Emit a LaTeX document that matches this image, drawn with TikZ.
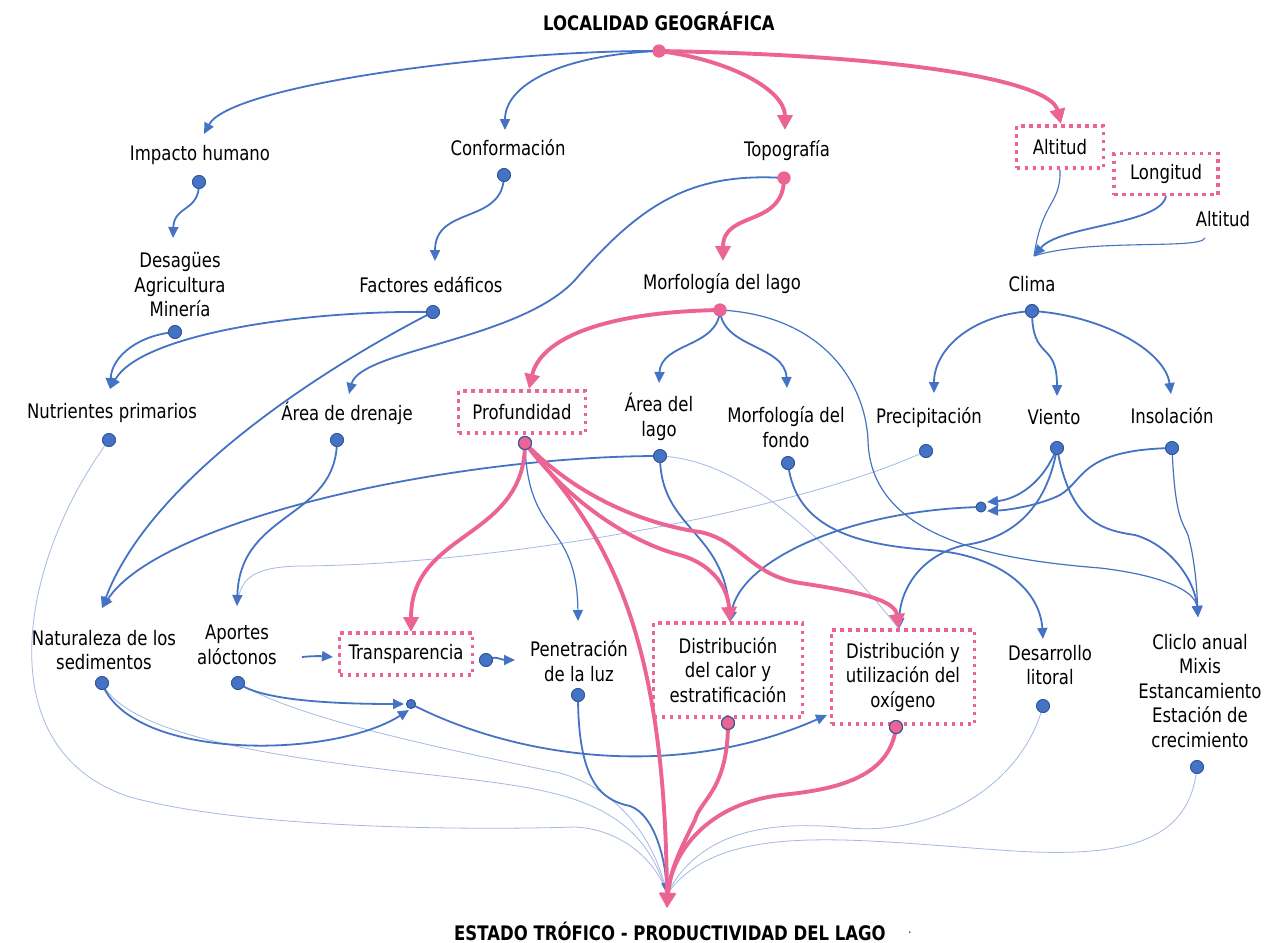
\documentclass[tikz,border=0pt]{standalone}
\usepackage{fontspec}
\setmainfont{DejaVu Sans}[FakeStretch=0.825]
\usetikzlibrary{arrows.meta}
\definecolor{cblue}{HTML}{4472C4}
\definecolor{cdark}{HTML}{2F5597}
\definecolor{cpink}{HTML}{EC6494}
\definecolor{cfaint}{HTML}{A4B9E4}
\begin{document}
\begin{tikzpicture}[x=1pt,y=-1pt,
  lbl/.style={font=\fontsize{20}{24.5}\selectfont, inner sep=0pt, align=center},
  ttl/.style={font=\fontsize{20}{24.5}\selectfont\bfseries, inner sep=0pt},
  pbox/.style={lbl, draw=cpink, line width=3.5pt, dash pattern=on 3.5pt off 4.5pt},
  bdot/.style={circle, fill=cblue, draw=cdark, line width=0.8pt, minimum size=13pt, inner sep=0pt},
  pdot/.style={circle, fill=cpink, minimum size=13pt, inner sep=0pt},
  pbdot/.style={circle, fill=cpink, draw=cdark, line width=1pt, minimum size=13pt, inner sep=0pt},
  jdot/.style={circle, fill=cblue, draw=cdark, line width=0.8pt, minimum size=9pt, inner sep=0pt},
  barrow/.style={draw=cblue, line width=1.8pt, -{Triangle[length=11pt,width=10pt]}},
  tarrow/.style={draw=cblue, line width=1.2pt, -{Triangle[length=11pt,width=10pt]}},
  tline/.style={draw=cblue, line width=1.1pt},
  fline/.style={draw=cfaint, line width=0.8pt},
  parrow/.style={draw=cpink, line width=3.9pt, -{Triangle[length=15pt,width=15pt]}}
]
\useasboundingbox (0,0) rectangle (1270,943);
\fill[white] (0,0) rectangle (1270,943);

% ---------- titles ----------
\node[ttl] (localidad) at (659,21) {LOCALIDAD GEOGRÁFICA};
\node[ttl] (estado) at (670,931) {ESTADO TRÓFICO - PRODUCTIVIDAD DEL LAGO};
\node[lbl, font=\fontsize{12}{14}\selectfont] (punto) at (910,933) {.};

% ---------- labels ----------
\node[lbl] (impacto) at (200,155) {Impacto humano};
\node[lbl] (conform) at (508,148) {Conformación};
\node[lbl] (topo) at (787,151) {Topografía};
\node[pbox, minimum width=87pt, minimum height=42pt] (altitud) at (1060,147) {Altitud};
\node[pbox, minimum width=104pt, minimum height=41pt] (longitud) at (1166,174) {Longitud};
\node[lbl] (altitud2) at (1223,219) {Altitud};
\node[lbl] (desagues) at (180,285) {Desagües\\Agricultura\\Minería};
\node[lbl] (factores) at (431,285) {Factores edáficos};
\node[lbl] (morflago) at (722,284) {Morfología del lago};
\node[lbl] (clima) at (1032,284) {Clima};
\node[lbl] (nutrientes) at (112,413) {Nutrientes primarios};
\node[lbl] (drenaje) at (347,413) {Área de drenaje};
\node[pbox, minimum width=127pt, minimum height=42pt] (profundidad) at (522,412) {Profundidad};
\node[lbl] (arealago) at (659,417) {Área del\\lago};
\node[lbl] (fondo) at (786,427) {Morfología del\\fondo};
\node[lbl] (precip) at (929,418) {Precipitación};
\node[lbl] (viento) at (1054,417) {Viento};
\node[lbl] (insol) at (1172,416) {Insolación};
\node[lbl] (natural) at (104,650) {Naturaleza de los\\sedimentos};
\node[lbl] (aportes) at (237,645) {Aportes\\alóctonos};
\node[pbox, minimum width=133pt, minimum height=42pt] (transp) at (406,654) {Transparencia};
\node[lbl] (penetr) at (579,661) {Penetración\\de la luz};
\node[pbox, minimum width=149pt, minimum height=94pt] (calor) at (728,670) {Distribución\\del calor y\\estratificación};
\node[pbox, minimum width=143pt, minimum height=94pt] (oxig) at (903,677) {Distribución y\\utilización del\\oxígeno};
\node[lbl] (litoral) at (1050,665) {Desarrollo\\litoral};
\node[lbl] (ciclo) at (1200,691) {Cliclo anual\\Mixis\\Estancamiento\\Estación de\\crecimiento};

% ---------- arrow ends ----------
\coordinate (impacto-in) at (204,134);
\coordinate (conform-in) at (505,130);
\coordinate (topo-in) at (785,130);
\coordinate (altitud-in) at (1061,124);
\coordinate (desagues-in) at (173,238);
\coordinate (factores-in) at (435,261);
\coordinate (morflago-in) at (723,261);
\coordinate (clima-in) at (1034,256);
\coordinate (nutr-in) at (110,389);
\coordinate (drenaje-in) at (349,394);
\coordinate (prof-in) at (529,389);
\coordinate (arealago-in) at (659,383);
\coordinate (fondo-in) at (787,388);
\coordinate (precip-in) at (934,393);
\coordinate (viento-in) at (1057,396);
\coordinate (insol-in) at (1171,394);
\coordinate (natural-in) at (102,608);
\coordinate (aportes-in) at (237,606);
\coordinate (aportes-out) at (302,657);
\coordinate (transp-in) at (333,657);
\coordinate (transp-top) at (411,632);
\coordinate (penetr-in) at (515,660);
\coordinate (penetr-top) at (578,621);
\coordinate (calor-in) at (730,622);
\coordinate (oxig-in) at (899,629);
\coordinate (oxig-left) at (827,715);
\coordinate (litoral-in) at (1043,639);
\coordinate (ciclo-in) at (1198,617);
\coordinate (estado-in) at (667,908);
\coordinate (estado-bin) at (667,894);
\coordinate (altitud2-out) at (1205,238);
\coordinate (jclima-a) at (987,502);
\coordinate (jclima-b) at (987,511);
\coordinate (jsed-a) at (404,704);
\coordinate (jsed-b) at (409,710);

% ---------- dots ----------
\node[pdot] (d-root) at (659,51) {};
\node[bdot] (d-impacto) at (199,182) {};
\node[bdot] (d-conform) at (504,175) {};
\node[pdot] (d-topo) at (784,178) {};
\node[bdot] (d-desagues) at (175,332) {};
\node[bdot] (d-factores) at (433,312) {};
\node[pdot] (d-morflago) at (720,310) {};
\node[bdot] (d-clima) at (1032,311) {};
\node[bdot] (d-nutr) at (109,440) {};
\node[bdot] (d-drenaje) at (337,440) {};
\node[pbdot] (d-prof) at (525,443) {};
\node[bdot] (d-arealago) at (660,456) {};
\node[bdot] (d-fondo) at (788,463) {};
\node[bdot] (d-precip) at (926,451) {};
\node[bdot] (d-viento) at (1057,448) {};
\node[bdot] (d-insol) at (1172,448) {};
\node[jdot, minimum size=10pt] (j-clima) at (981,507) {};
\node[bdot] (d-natural) at (102,683) {};
\node[bdot] (d-aportes) at (238,683) {};
\node[bdot] (d-transp) at (486,660) {};
\node[bdot] (d-penetr) at (578,695) {};
\node[jdot] (j-sed) at (411,704) {};
\node[pbdot] (d-calor) at (728,723) {};
\node[pbdot] (d-oxig) at (896,727) {};
\node[bdot] (d-litoral) at (1043,706) {};
\node[bdot] (d-ciclo) at (1197,767) {};

% ---------- faint links to the trophic state ----------
\draw[fline] (d-nutr.center) .. controls (20,560) and (-15,750) .. (130,797)
  .. controls (250,830) and (480,830) .. (575,827) .. controls (630,830) and (660,870) .. (estado-bin);
\draw[fline] (d-natural.center) .. controls (130,740) and (300,760) .. (450,777)
  .. controls (560,790) and (640,800) .. (estado-bin);
\draw[fline] (d-aportes.center) .. controls (300,720) and (450,750) .. (560,773)
  .. controls (620,790) and (655,840) .. (estado-bin);
\draw[fline] (d-litoral.center) .. controls (1020,790) and (930,835) .. (850,828)
  .. controls (770,820) and (700,830) .. (estado-bin);
\draw[fline] (d-ciclo.center) .. controls (1190,840) and (1130,860) .. (1000,850)
  .. controls (850,840) and (720,820) .. (estado-bin);
\draw[fline] (d-arealago.center) .. controls (760,460) and (860,580) .. (oxig-in);
\draw[fline] (d-precip.center) .. controls (800,510) and (500,565) .. (300,566)
  .. controls (250,567) and (240,580) .. (aportes-in);

% ---------- thin blue links ----------
\draw[tline] (altitud.south) .. controls (1061,205) and (1042,200) .. (clima-in);
\draw[tline] (altitud2-out) .. controls (1200,250) and (1090,238) .. (clima-in);
\draw[tarrow] (d-morflago.center) .. controls (820,315) and (865,380) .. (868,440)
  .. controls (870,540) and (1000,560) .. (1100,568) .. controls (1160,575) and (1195,590) .. (ciclo-in);
\draw[tarrow] (d-insol.center) .. controls (1175,520) and (1183,522) .. (1188,535)
  .. controls (1195,560) and (1197,590) .. (ciclo-in);
\draw[tarrow] (d-prof.center) .. controls (527,540) and (577,520) .. (penetr-top);

% ---------- blue links ----------
\draw[barrow] (d-root.center) .. controls (500,50) and (230,85) .. (impacto-in);
\draw[barrow] (d-root.center) .. controls (560,55) and (505,85) .. (conform-in);
\draw[barrow] (d-impacto.center) .. controls (200,212) and (174,205) .. (desagues-in);
\draw[barrow] (d-conform.center) .. controls (504,225) and (435,205) .. (factores-in);
\draw[barrow] (longitud.south) .. controls (1160,225) and (1060,225) .. (clima-in);
\draw[barrow] (d-topo.center) .. controls (690,172) and (640,205) .. (575,280)
  .. controls (520,340) and (360,350) .. (drenaje-in);
\draw[barrow] (d-desagues.center) .. controls (140,335) and (112,355) .. (nutr-in);
\draw[barrow] (d-factores.center) .. controls (300,310) and (140,335) .. (nutr-in);
\draw[barrow] (d-factores.center) .. controls (320,370) and (150,480) .. (natural-in);
\draw[barrow] (d-arealago.center) .. controls (450,456) and (160,520) .. (natural-in);
\draw[barrow] (d-drenaje.center) .. controls (337,520) and (240,510) .. (aportes-in);
\draw[barrow] (d-morflago.center) .. controls (718,348) and (661,342) .. (arealago-in);
\draw[barrow] (d-morflago.center) .. controls (722,348) and (785,345) .. (fondo-in);
\draw[barrow] (d-clima.center) .. controls (970,315) and (934,350) .. (precip-in);
\draw[barrow] (d-clima.center) .. controls (1032,362) and (1057,340) .. (viento-in);
\draw[barrow] (d-clima.center) .. controls (1100,315) and (1165,350) .. (insol-in);
\draw[barrow] (d-arealago.center) .. controls (660,530) and (725,530) .. (calor-in);
\draw[barrow] (d-fondo.center) .. controls (795,530) and (860,545) .. (930,550)
  .. controls (1000,555) and (1040,590) .. (litoral-in);
\draw[barrow] (d-viento.center) .. controls (1040,490) and (1010,500) .. (jclima-a);
\draw[barrow] (d-insol.center) .. controls (1080,450) and (1085,480) .. (1060,495)
  .. controls (1040,505) and (1010,510) .. (jclima-b);
\draw[barrow] (j-clima.center) .. controls (850,510) and (740,560) .. (calor-in);
\draw[barrow] (d-viento.center) .. controls (1045,520) and (1000,540) .. (965,545)
  .. controls (920,555) and (900,590) .. (oxig-in);
\draw[barrow] (d-viento.center) .. controls (1070,520) and (1100,530) .. (1135,535)
  .. controls (1170,545) and (1195,580) .. (ciclo-in);
\draw[barrow] (aportes-out) .. controls (312,656) and (320,656) .. (transp-in);
\draw[barrow] (d-transp.center) .. controls (495,655) and (502,660) .. (penetr-in);
\draw[barrow] (d-aportes.center) .. controls (260,700) and (330,704) .. (jsed-a);
\draw[barrow] (d-natural.center) .. controls (130,760) and (330,760) .. (jsed-b);
\draw[barrow] (j-sed.center) .. controls (520,760) and (680,780) .. (oxig-left);
\draw[barrow] (d-penetr.center) .. controls (578,780) and (600,800) .. (630,806)
  .. controls (655,815) and (665,860) .. (estado-bin);

% ---------- pink links ----------
\draw[parrow] (d-root.center) .. controls (730,60) and (785,90) .. (topo-in);
\draw[parrow] (d-root.center) .. controls (900,55) and (1050,80) .. (altitud-in);
\draw[parrow] (d-topo.center) .. controls (784,228) and (723,210) .. (morflago-in);
\draw[parrow] (d-morflago.center) .. controls (600,312) and (540,340) .. (prof-in);
\draw[parrow] (d-prof.center) .. controls (525,540) and (411,530) .. (transp-top);
\draw[parrow] (d-prof.center) .. controls (590,520) and (665,600) .. (estado-in);
\draw[parrow] (d-prof.center) .. controls (575,510) and (640,545) .. (680,555)
  .. controls (715,565) and (728,590) .. (calor-in);
\draw[parrow] (d-prof.center) .. controls (580,500) and (650,525) .. (700,532)
  .. controls (740,540) and (750,575) .. (800,583) .. controls (860,592) and (895,600) .. (oxig-in);
\draw[parrow] (d-calor.center) .. controls (728,790) and (700,800) .. (695,820)
  .. controls (680,850) and (670,870) .. (estado-in);
\draw[parrow] (d-oxig.center) .. controls (890,780) and (830,790) .. (781,795)
  .. controls (700,805) and (670,860) .. (estado-in);

% ---------- dots drawn over the links ----------
\foreach \d in {d-root, d-topo, d-morflago}
  \node[pdot] at (\d) {};
\foreach \d in {d-impacto, d-conform, d-desagues, d-factores, d-clima, d-nutr, d-drenaje,
  d-arealago, d-fondo, d-precip, d-viento, d-insol, d-natural, d-aportes, d-transp,
  d-penetr, d-litoral, d-ciclo}
  \node[bdot] at (\d) {};
\foreach \d in {d-prof, d-calor, d-oxig}
  \node[pbdot] at (\d) {};
\node[jdot] at (j-sed) {};
\node[jdot, minimum size=10pt] at (j-clima) {};
\end{tikzpicture}
\end{document}
